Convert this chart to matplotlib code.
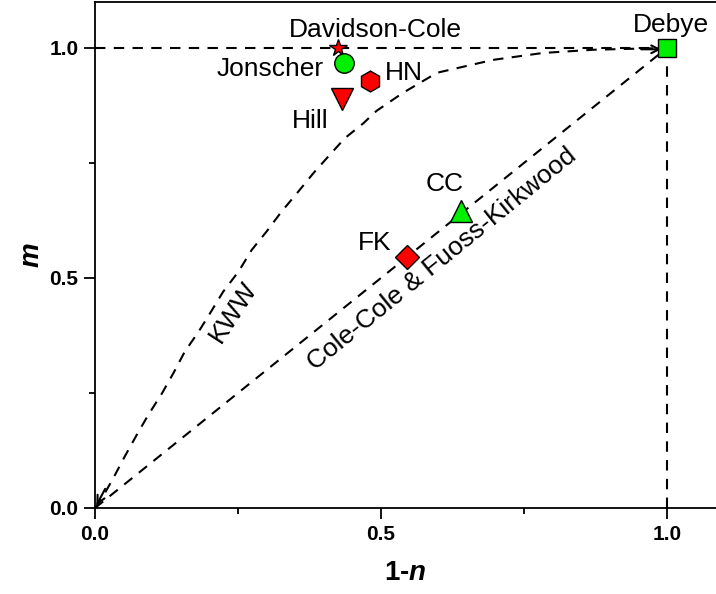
import matplotlib.pyplot as plt

plt.rcParams['font.family'] = ['Liberation Sans', 'DejaVu Sans']
plt.rcParams['mathtext.fontset'] = 'custom'
plt.rcParams['mathtext.bfit'] = 'Liberation Sans:bold:italic'
plt.rcParams['mathtext.bf'] = 'Liberation Sans:bold'

# model points (1-n, m)
names = ['Davidson-Cole', 'Jonscher', 'HN', 'Hill', 'Debye', 'CC', 'FK']
xs = [0.425, 0.435, 0.481, 0.431, 1.0, 0.639, 0.546]
ys = [1.0, 0.968, 0.927, 0.889, 1.0, 0.646, 0.546]
markers = ['*', 'o', 'h', 'v', 's', '^', 'D']
colors = ['#ff0000', '#00ee00', '#ff0000', '#ff0000', '#00ee00', '#00ee00', '#ff0000']
sizes = [13, 14, 15, 16, 13, 16, 12.5]

# label positions (baseline)
lab_x = [0.491, 0.307, 0.540, 0.376, 1.007, 0.612, 0.488]
lab_y = [1.024, 0.938, 0.930, 0.827, 1.035, 0.688, 0.561]

# KWW curve
kww_x = [0.0, 0.012, 0.032, 0.052, 0.073, 0.093, 0.117, 0.137, 0.157, 0.181, 0.201,
         0.224, 0.251, 0.274, 0.300, 0.326, 0.353, 0.382, 0.410, 0.437, 0.469, 0.492,
         0.538, 0.598, 0.696, 0.783, 0.871, 0.97, 1.0]
kww_y = [0.0, 0.021, 0.065, 0.112, 0.159, 0.202, 0.249, 0.293, 0.340, 0.383, 0.423,
         0.470, 0.514, 0.561, 0.601, 0.644, 0.684, 0.728, 0.767, 0.804, 0.836, 0.863,
         0.902, 0.946, 0.974, 0.989, 0.996, 0.999, 1.0]

# straight guides
cc_x = [0.0, 1.0]
cc_y = [0.0, 1.0]
dc_x = [0.0, 1.0]
dc_y = [1.0, 1.0]
vert_x = [1.0, 1.0]
vert_y = [0.0, 1.0]

fig = plt.figure(figsize=(7.16, 5.94), dpi=100)
ax = fig.add_axes([0.1327, 0.1448, 0.8673, 0.852])

ls = dict(color='black', lw=1.5, dashes=(5, 4))
ax.plot(dc_x, dc_y, **ls)
ax.plot(vert_x, vert_y, **ls)
ax.plot(cc_x, cc_y, **ls)
ax.plot(kww_x, kww_y, **ls)

ax.annotate('', xy=(0, 0), xytext=(0.02, 0.047),
            arrowprops=dict(arrowstyle='->', lw=1.5, color='black', mutation_scale=14))
ax.annotate('', xy=(0.995, 0.997), xytext=(0.95, 0.997),
            arrowprops=dict(arrowstyle='->', lw=1.5, color='black', mutation_scale=14))

for i in range(len(names)):
    ax.plot(xs[i], ys[i], marker=markers[i], ms=sizes[i], color=colors[i],
            mec='black', mew=1, ls='none', zorder=5)
    ax.text(lab_x[i], lab_y[i], names[i], fontsize=19, ha='center', va='baseline')

ax.text(0.241, 0.426, 'KWW', fontsize=19, rotation=57, ha='center', va='center',
        rotation_mode='anchor')
ax.text(0.607, 0.541, 'Cole-Cole & Fuoss-Kirkwood', fontsize=19, rotation=39,
        ha='center', va='center', rotation_mode='anchor')

ax.set_xlim(0, 1.0857)
ax.set_ylim(0, 1.1)
ax.set_xticks([0, 0.5, 1.0])
ax.set_yticks([0, 0.5, 1.0])
ax.set_xticks([0.25, 0.75], minor=True)
ax.set_yticks([0.25, 0.75], minor=True)
ax.set_xticklabels(['0.0', '0.5', '1.0'], fontweight='bold', fontsize=15)
ax.set_yticklabels(['0.0', '0.5', '1.0'], fontweight='bold', fontsize=15)
ax.tick_params(which='major', direction='out', length=8, width=1.3, pad=4)
ax.tick_params(which='minor', direction='out', length=4, width=1.3)
for s in ['left', 'bottom', 'top']:
    ax.spines[s].set_linewidth(1.3)
ax.spines['right'].set_visible(False)

ax.set_xlabel('1-$\\mathbfit{n}$', fontsize=20, fontweight='bold', labelpad=12)
ax.set_ylabel('$\\mathbfit{m}$', fontsize=20, labelpad=3)

fig.savefig('out.png', dpi=100)
